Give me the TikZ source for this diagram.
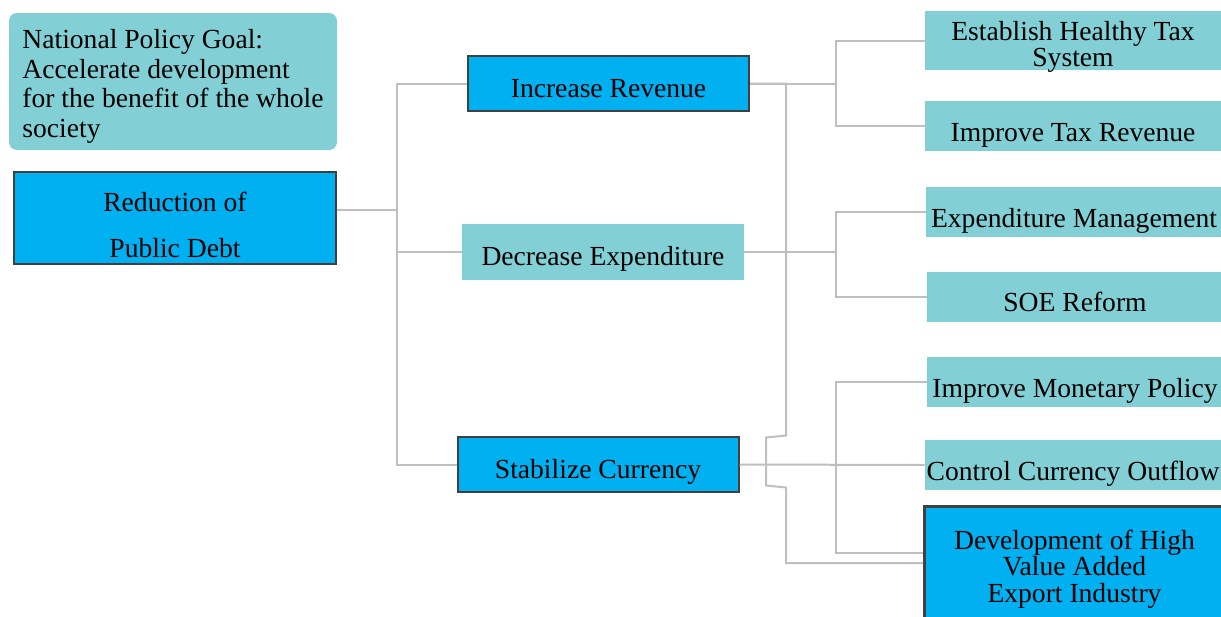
\documentclass[tikz,border=0pt]{standalone}
\usepackage{fontspec}
\setmainfont{Liberation Serif}
\definecolor{tealbox}{HTML}{82D0D5}
\definecolor{bluebox}{HTML}{00B0F0}
\definecolor{darkline}{HTML}{404040}
\definecolor{linkgray}{HTML}{BFBFBF}

\begin{document}
\begin{tikzpicture}[
      x=0.5pt, y=-0.5pt,
      every node/.style={font=\fontsize{13.8}{16}\selectfont, inner sep=0pt},
      blue box/.style={fill=bluebox, draw=darkline, line width=1pt},
      teal box/.style={fill=tealbox},
      mid/.style={minimum width=140.5pt, minimum height=27.5pt, text height=20.7pt, text depth=6.8pt},
      leafbase/.style={teal box, minimum width=148pt, minimum height=25pt},
      leaf/.style={leafbase, text height=20.2pt, text depth=4.8pt},
      link/.style={draw=linkgray, line width=1pt}]
    \useasboundingbox (0,0) rectangle (1221,616);

    \node[teal box, rounded corners=4pt, minimum width=164pt, minimum height=68.5pt,
          text height=62.2pt, text depth=6.3pt,
          align=left, font=\fontsize{13.8}{14.75}\selectfont] (goal) at (173,81.5)
          {National Policy Goal:\\ Accelerate development\\ for the benefit of the whole\\ society};
    \node[blue box, minimum width=161pt, minimum height=46pt, text height=42.7pt, text depth=3.3pt,
          align=center, font=\fontsize{13.8}{23}\selectfont] (debt) at (175,218)
          {Reduction of\\ Public Debt};

    \node[blue box, mid] (revenue)  at (608.5,83.5) {Increase Revenue};
    \node[teal box, mid, minimum width=141pt, minimum height=28pt] (expend) at (603,252) {Decrease Expenditure};
    \node[blue box, mid] (currency) at (598,464.5) {Stabilize Currency};

    \node[leafbase, minimum height=29.5pt, text height=27.7pt, text depth=1.8pt,
          align=center, font=\fontsize{13.8}{13}\selectfont]
          (healthy) at (1073,40.5) {Establish Healthy Tax\\ System};
    \node[leaf] (taxrev)   at (1073,126)   {Improve Tax Revenue};
    \node[leaf] (expmgmt)  at (1074,212)   {Expenditure Management};
    \node[leaf] (soe)      at (1075,296.5) {SOE Reform};
    \node[leaf] (monetary) at (1075,382)   {Improve Monetary Policy};
    \node[leaf] (outflow)  at (1073,465)   {Control Currency Outflow};
    \node[leafbase, blue box, line width=1.5pt, minimum width=150pt, minimum height=59.5pt,
          text height=47.95pt, text depth=11.55pt,
          align=center, font=\fontsize{13.8}{13.25}\selectfont] (export) at (1074.5,566)
          {Development of High\\ Value Added\\ Export Industry};

    \coordinate (lbus)  at (397,210);
    \coordinate (rbus1) at (836,83.5);
    \coordinate (rbus2) at (836,252);
    \coordinate (rbus3) at (836,465);

    \draw[link] ([yshift=4pt]debt.east) -- (lbus);
    \draw[link] (lbus) |- (revenue.west);
    \draw[link] (lbus) |- (expend.west);
    \draw[link] (lbus) |- (currency.west);

    \draw[link] (revenue.east) -- (rbus1);
    \draw[link] (rbus1) |- (healthy.west);
    \draw[link] (rbus1) |- (taxrev.west);
    \draw[link] (revenue.east) -| ++(36,352) -- ++(-20,2) -- ++(0,48) -- ++(20,2)
          |- ([yshift=1.5pt]export.west);

    \draw[link] (expend.east) -- (rbus2);
    \draw[link] (rbus2) |- (expmgmt.west);
    \draw[link] (rbus2) |- (soe.west);

    \draw[link] (currency.east) -- (outflow.west);
    \draw[link] (rbus3) |- (monetary.west);
    \draw[link] (rbus3) |- ([yshift=6.5pt]export.west);

  \end{tikzpicture}
\end{document}
